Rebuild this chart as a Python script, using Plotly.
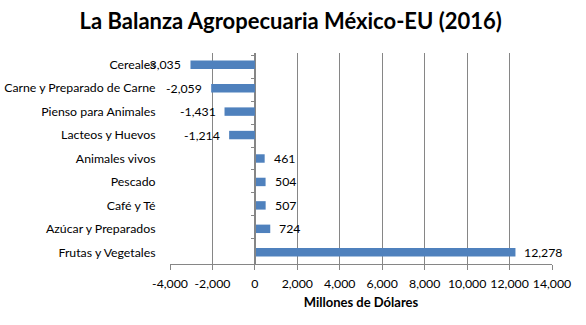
import plotly.graph_objects as go

categories = ["Cereales", "Carne y Preparado de Carne", "Pienso para Animales",
              "Lacteos y Huevos", "Animales vivos", "Pescado", "Café y Té",
              "Azúcar y Preparados", "Frutas y Vegetales"]
values = [-3035, -2059, -1431, -1214, 461, 504, 507, 724, 12278]
x_ticks = list(range(-4000, 14001, 2000))
x_tick_labels = [f"{v:,}" for v in x_ticks]

BAR = "#4F81BD"
GRID = "#868686"
FONT = "Lato"
FS = 12.3

fig = go.Figure()
fig.add_trace(go.Bar(x=values, y=categories, orientation="h", width=0.36,
                     marker=dict(color=BAR, line=dict(width=0)),
                     hoverinfo="skip", showlegend=False))
# helper trace for the category axis drawn at x = 0
fig.add_trace(go.Scatter(x=[0] * len(categories), y=categories, yaxis="y2",
                         mode="markers", marker=dict(opacity=0),
                         hoverinfo="skip", showlegend=False))

annotations = []
for c, v in zip(categories, values):
    annotations.append(dict(x=v, y=c, xref="x", yref="y", text=f"{v:,}",
                            showarrow=False,
                            xanchor="right" if v < 0 else "left",
                            xshift=-7 if v < 0 else 7,
                            font=dict(family=FONT, size=FS, color="#000000")))

xmin, xmax = x_ticks[0], x_ticks[-1]
fig.update_layout(
    width=586, height=325,
    margin=dict(l=170, r=34, t=53, b=61),
    paper_bgcolor="white", plot_bgcolor="white",
    font=dict(family=FONT, size=FS, color="#000000"),
    title=dict(text="<b>La Balanza Agropecuaria México-EU (2016)</b>",
               x=0.496, xanchor="center", y=1 - 21 / 325, yanchor="middle",
               yref="container", font=dict(family=FONT, size=22, color="#000000")),
    xaxis=dict(range=[xmin, xmax], tickvals=x_ticks, ticktext=x_tick_labels,
               showgrid=True, gridcolor=GRID, gridwidth=1,
               showline=True, linecolor=GRID, linewidth=1,
               ticks="outside", ticklen=5, tickcolor=GRID,
               ticklabelstandoff=3,
               zeroline=False, automargin=False,
               tickfont=dict(family=FONT, size=FS, color="#000000"),
               title=dict(text="<b>Millones de Dólares</b>", standoff=8,
                          font=dict(family=FONT, size=13, color="#000000"))),
    yaxis=dict(type="category", categoryorder="array", categoryarray=categories,
               autorange="reversed", showgrid=False, showline=False,
               zeroline=False, ticks="outside", ticklen=11, automargin=False,
               tickcolor="rgba(0,0,0,0)",
               tickfont=dict(family=FONT, size=FS, color="#000000")),
    yaxis2=dict(type="category", categoryorder="array", categoryarray=categories,
                autorange="reversed", overlaying="y", anchor="free",
                position=(0 - xmin) / (xmax - xmin), side="left",
                showticklabels=False, showgrid=False, zeroline=False,
                showline=True, linecolor=GRID, linewidth=1, automargin=False,
                ticks="outside", ticklen=4, tickcolor=GRID,
                tickson="boundaries"),
    annotations=annotations,
)

fig.write_html("out.html")
